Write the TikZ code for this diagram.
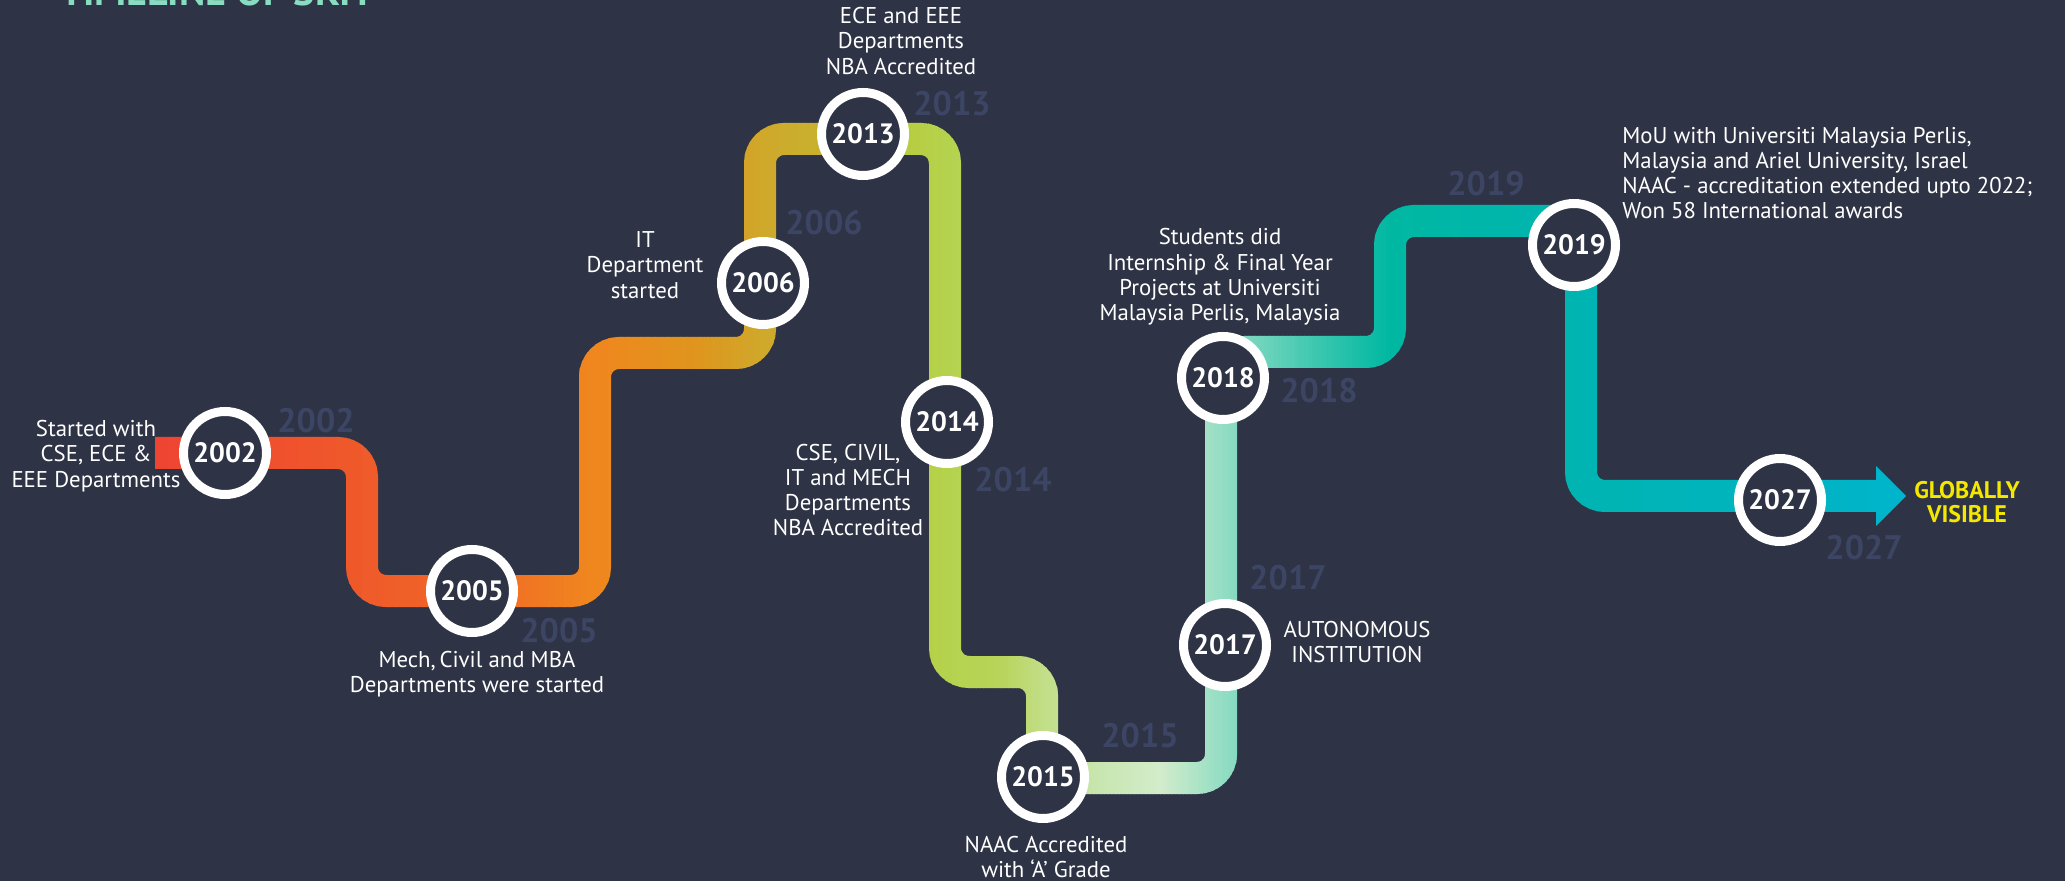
\documentclass[tikz,border=0pt]{standalone}
\usepackage{fontspec}
\setmainfont{PT Sans}

\definecolor{bgnavy}{HTML}{2E3345}
\definecolor{yeargrey}{HTML}{3C4664}
\definecolor{titlemint}{HTML}{88DCC0}
\definecolor{goalyellow}{HTML}{F5E800}

\newcommand{\trackpath}{(155,453) -- (362,453) -- (362,591) -- (595,591) -- (595,353) -- (760,353) -- (760,139) -- (945,139) -- (945,672) -- (1042,672) -- (1042,778) -- (1221,778) -- (1221,352) -- (1390,352) -- (1390,221) -- (1581,221) -- (1581,496) -- (1878,496)}

\begin{document}
\begin{tikzpicture}[x=0.5pt,y=-0.5pt,
  year/.style={circle, draw=white, line width=4.5pt, fill=bgnavy, minimum size=41.5pt, inner sep=0pt, text=white, font=\bfseries\fontsize{14}{14}\selectfont},
  ghost/.style={text=yeargrey, inner sep=0pt, font=\bfseries\fontsize{17}{17}\selectfont},
  desc/.style={text=white, align=center, inner sep=0pt, font=\fontsize{11.4}{12.6}\selectfont}]

  \useasboundingbox (0,0) rectangle (2065,881);
  \fill[bgnavy] (0,0) rectangle (2065,881);

  \node[anchor=base west, text=titlemint, inner sep=0pt, font=\bfseries\fontsize{20}{20}\selectfont] (title) at (60,6) {TIMELINE OF SKIT};

  % the track, coloured strip by strip from left to right
  \foreach \xa/\ca/\xb/\cb in {155/EE4433/362/EF5A2A, 362/EF5A2A/470/F06826, 470/F06826/595/F0871E,
      595/F0871E/700/DE961E, 700/DE961E/760/D0A82A, 760/D0A82A/860/C3B834, 860/C3B834/900/B8CC3E,
      900/B8CC3E/945/B5D24E, 945/B5D24E/1000/B8D45A, 1000/B8D45A/1042/C2DE86, 1042/C2DE86/1100/C8E6B0,
      1100/C8E6B0/1160/D3ECCB, 1160/D3ECCB/1221/94DEC4, 1221/94DEC4/1260/70D4BC, 1260/70D4BC/1330/30C4AD,
      1330/30C4AD/1390/00B8A2, 1390/00B8A2/1581/00B4B2, 1581/00B4B2/1910/00B4CC}{
    \definecolor{fromc}{HTML}{\ca}
    \definecolor{toc}{HTML}{\cb}
    \foreach \i in {0,...,15}{
      \pgfmathsetmacro\xl{\xa+(\xb-\xa)*\i/16}
      \pgfmathsetmacro\xr{\xa+(\xb-\xa)*(\i+1)/16+1}
      \pgfmathtruncatemacro\pc{100*(\i+0.5)/16}
      \begin{scope}
        \clip (\xl,-10) rectangle (\xr,900);
        \draw[toc!\pc!fromc, line width=16pt, rounded corners=12pt] \trackpath;
        \fill[toc!\pc!fromc] (1876,466) -- (1906,496) -- (1876,526) -- cycle;
      \end{scope}
    }
  }

  \node[year] (y2002) at (225,453) {2002};
  \node[year] (y2005) at (472,591) {2005};
  \node[year] (y2006) at (763,283) {2006};
  \node[year] (y2013) at (863,134) {2013};
  \node[year] (y2014) at (947,422) {2014};
  \node[year] (y2015) at (1043,777) {2015};
  \node[year] (y2017) at (1225,645) {2017};
  \node[year] (y2018) at (1223,378) {2018};
  \node[year] (y2019) at (1574,245) {2019};
  \node[year] (y2027) at (1780,500) {2027};

  \node[ghost] (g2002) at (316,421) {2002};
  \node[ghost] (g2005) at (559,631) {2005};
  \node[ghost] (g2006) at (824,223) {2006};
  \node[ghost] (g2013) at (952,104) {2013};
  \node[ghost] (g2014) at (1013,480) {2014};
  \node[ghost] (g2015) at (1140,736) {2015};
  \node[ghost] (g2017) at (1288,578) {2017};
  \node[ghost] (g2018) at (1319,391) {2018};
  \node[ghost] (g2019) at (1486,184) {2019};
  \node[ghost] (g2027) at (1864,548) {2027};

  \node[desc] (d2002) at (96,456) {Started with\\CSE, ECE \&\\EEE Departments};
  \node[desc] (d2005) at (477,674) {Mech,\,Civil and MBA\\Departments were started};
  \node[desc] (d2006) at (645,265) {IT\\Department\\started};
  \node[desc] (d2013) at (901,41) {ECE and EEE\\Departments\\NBA Accredited};
  \node[desc] (d2014) at (848,490) {CSE, CIVIL,\\IT and MECH\\Departments\\NBA Accredited};
  \node[desc] (d2015) at (1046,857) {NAAC Accredited\\with ‘A’ Grade};
  \node[desc] (d2017) at (1357,642) {AUTONOMOUS\\INSTITUTION};
  \node[desc] (d2018) at (1220,277) {Students did\\Internship \& Final Year\\Projects at Universiti\\Malaysia Perlis, Malaysia};
  \node[desc, align=left, anchor=west] (d2019) at (1622,173) {MoU with Universiti Malaysia Perlis,\\Malaysia and Ariel University, Israel\\NAAC - accreditation extended upto 2022;\\Won 58 International awards};
  \node[desc, text=goalyellow, font=\bfseries\fontsize{12}{11.8}\selectfont] (goal) at (1967,502) {GLOBALLY\\VISIBLE};

\end{tikzpicture}
\end{document}
